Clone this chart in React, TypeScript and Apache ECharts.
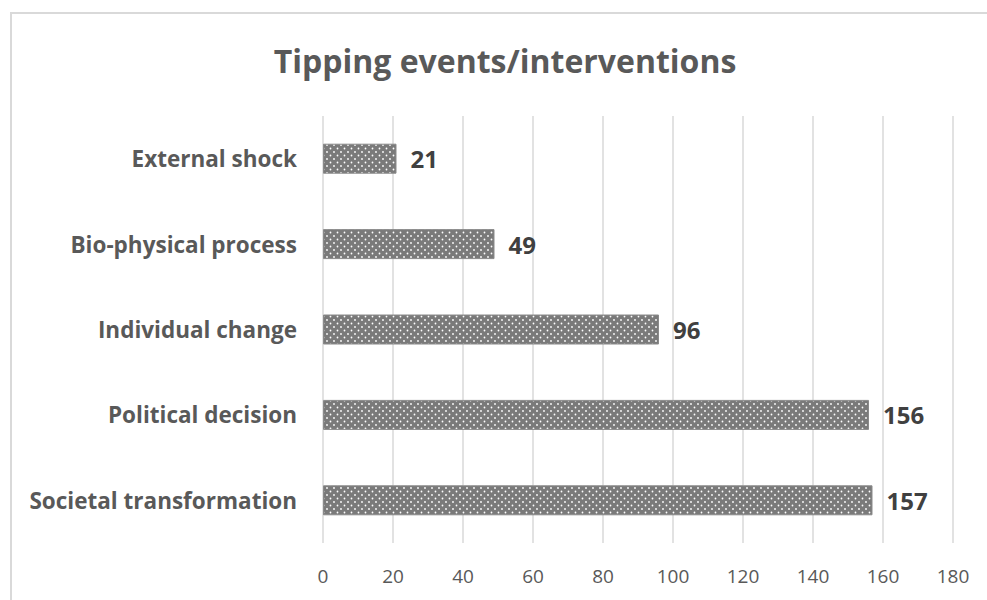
import React, { useEffect, useRef } from "react";
import * as echarts from "echarts";

const categories = [
  "Societal transformation",
  "Political decision",
  "Individual change",
  "Bio-physical process",
  "External shock",
];
const values = [157, 156, 96, 49, 21];
const xTicks = [0, 20, 40, 60, 80, 100, 120, 140, 160, 180];
const titleText = "Tipping events/interventions";

function makePattern(): HTMLCanvasElement {
  const c = document.createElement("canvas");
  c.width = 7;
  c.height = 7;
  const ctx = c.getContext("2d")!;
  ctx.fillStyle = "#7a7a7a";
  ctx.fillRect(0, 0, 7, 7);
  ctx.fillStyle = "#ffffff";
  ctx.beginPath();
  ctx.arc(1.5, 1.5, 0.9, 0, Math.PI * 2);
  ctx.fill();
  ctx.beginPath();
  ctx.arc(5, 5, 0.9, 0, Math.PI * 2);
  ctx.fill();
  return c;
}

export default function App() {
  const ref = useRef<HTMLDivElement>(null);
  useEffect(() => {
    if (!ref.current) return;
    const chart = echarts.init(ref.current, undefined, { renderer: "svg" });
    const font = "'Open Sans', Lato, sans-serif";
    chart.setOption({
      animation: false,
      backgroundColor: "#ffffff",
      graphic: [
        {
          type: "rect",
          shape: { x: 11, y: 13, width: 1000, height: 700 },
          style: { fill: "none", stroke: "#d9d9d9", lineWidth: 2 },
          silent: true,
        },
        {
          type: "text",
          x: 505,
          y: 60,
          style: {
            text: titleText,
            align: "center",
            verticalAlign: "middle",
            fontFamily: font,
            fontWeight: "bold",
            fontSize: 32,
            fill: "#595959",
          },
        },
      ],
      grid: { left: 323, right: 34, top: 116, bottom: 57, containLabel: false },
      xAxis: {
        type: "value",
        min: 0,
        max: 180,
        interval: 20,
        axisLine: { show: false },
        axisTick: { show: false },
        splitLine: { show: true, lineStyle: { color: "#d9d9d9", width: 1.5 } },
        axisLabel: {
          color: "#595959",
          fontFamily: font,
          fontSize: 19,
          margin: 23,
          formatter: (v: number) => (xTicks.includes(v) ? String(v) : ""),
        },
      },
      yAxis: {
        type: "category",
        data: categories,
        axisLine: { show: false },
        axisTick: { show: false },
        splitLine: { show: false },
        axisLabel: {
          color: "#595959",
          fontFamily: font,
          fontWeight: "bold",
          fontSize: 22.5,
          margin: 26,
        },
      },
      series: [
        {
          type: "bar",
          data: values,
          barWidth: 30,
          itemStyle: {
            color: { image: makePattern(), repeat: "repeat" },
            borderColor: "#8a8a8a",
            borderWidth: 1,
          },
          label: {
            show: true,
            position: "right",
            distance: 14,
            color: "#404040",
            fontFamily: font,
            fontWeight: "bold",
            fontSize: 24,
          },
        },
      ],
    });
    return () => chart.dispose();
  }, []);
  return (
    <div
      ref={ref}
      style={{ position: "absolute", left: 0, top: 0, width: 987, height: 600 }}
    />
  );
}
